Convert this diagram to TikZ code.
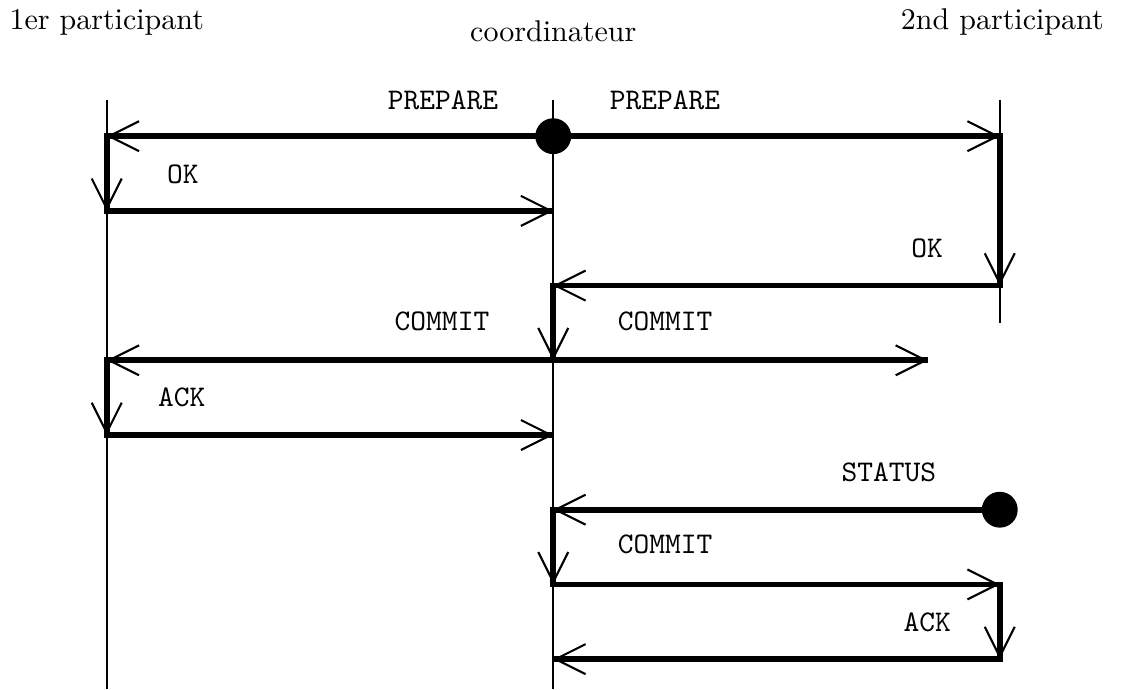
\documentclass[tikz,border=0pt]{standalone}
\usepackage[rgb]{xcolor}
\usepackage{tikz}
\usetikzlibrary{arrows.meta}

\tikzset{
  msg/.style={line width=1.9pt, line cap=rect,
    -{Straight Barb[length=10pt,width=10pt,line width=0.7pt]}},
  life/.style={line width=0.8pt},
  lbl/.style={font=\ttfamily, inner sep=0pt},
  event/.style={circle, fill=black, inner sep=0pt, minimum size=0.42cm},
}

\begin{document}
\begin{tikzpicture}[scale=1, rotate=0]
\useasboundingbox (0,0) rectangle (13.13,-8.07);

% participants and lifelines
\path
(1.25,-0.34)  node[anchor=base] (p1) {1er participant}
(6.48,-0.49)  node[anchor=base] (co) {coordinateur}
(11.74,-0.34) node[anchor=base] (p2) {2nd participant}
(1.25,-1.17)  coordinate (p1top)  (1.25,-8.07)  coordinate (p1bot)
(6.48,-1.17)  coordinate (cotop)  (6.48,-8.07)  coordinate (cobot)
(11.71,-1.17) coordinate (p2top)  (11.71,-3.78) coordinate (p2bot);
\draw[life] (p1top) -- (p1bot);
\draw[life] (cotop) -- (cobot);
\draw[life] (p2top) -- (p2bot);

% points on the lifelines
\path
(1.25,-1.595)  coordinate (L1)  (1.25,-2.47)  coordinate (L2)
(1.25,-4.22)   coordinate (L4)  (1.25,-5.095) coordinate (L5)
(6.48,-2.47)   coordinate (M2)  (6.48,-3.345) coordinate (M3)
(6.48,-4.22)   coordinate (M4)  (6.48,-5.095) coordinate (M5)
(6.48,-5.97)   coordinate (M6)  (6.48,-6.845) coordinate (M7)
(6.48,-7.72)   coordinate (M8)
(11.71,-1.595) coordinate (R1)  (11.71,-3.345) coordinate (R3)
(11.71,-6.845) coordinate (R7)  (11.71,-7.72)  coordinate (R8)
(10.87,-4.22)  coordinate (lost);

% commit phase
\draw[msg] (6.48,-1.595) -- (L1);
\draw[msg] (6.48,-1.595) -- (R1);
\draw[msg] (L1) -- (L2);
\draw[msg] (L2) -- (M2);
\draw[msg] (R1) -- (R3);
\draw[msg] (R3) -- (M3);
\draw[msg] (M3) -- (M4);
\draw[msg] (M4) -- (L4);
\draw[msg] (M4) -- (lost);
\draw[msg] (L4) -- (L5);
\draw[msg] (L5) -- (M5);

% recovery of the 2nd participant
\draw[msg] (11.71,-5.97) -- (M6);
\draw[msg] (M6) -- (M7);
\draw[msg] (M7) -- (R7);
\draw[msg] (R7) -- (R8);
\draw[msg] (R8) -- (M8);

\path
(6.48,-1.595) node[event] (start) {}
(11.71,-5.97) node[event] (restart) {};

% message names
\path
(5.19,-1.177)  node[lbl] (prepL) {PREPARE}
(7.79,-1.177)  node[lbl] (prepR) {PREPARE}
(2.143,-2.04)  node[lbl] (okL) {OK}
(10.86,-2.905) node[lbl] (okR) {OK}
(5.177,-3.76)  node[lbl] (comL) {COMMIT}
(7.79,-3.76)   node[lbl] (comR) {COMMIT}
(2.13,-4.65)   node[lbl] (ackL) {ACK}
(10.41,-5.53)  node[lbl] (status) {STATUS}
(7.79,-6.38)   node[lbl] (comB) {COMMIT}
(10.86,-7.285) node[lbl] (ackR) {ACK};

\end{tikzpicture}
\end{document}
